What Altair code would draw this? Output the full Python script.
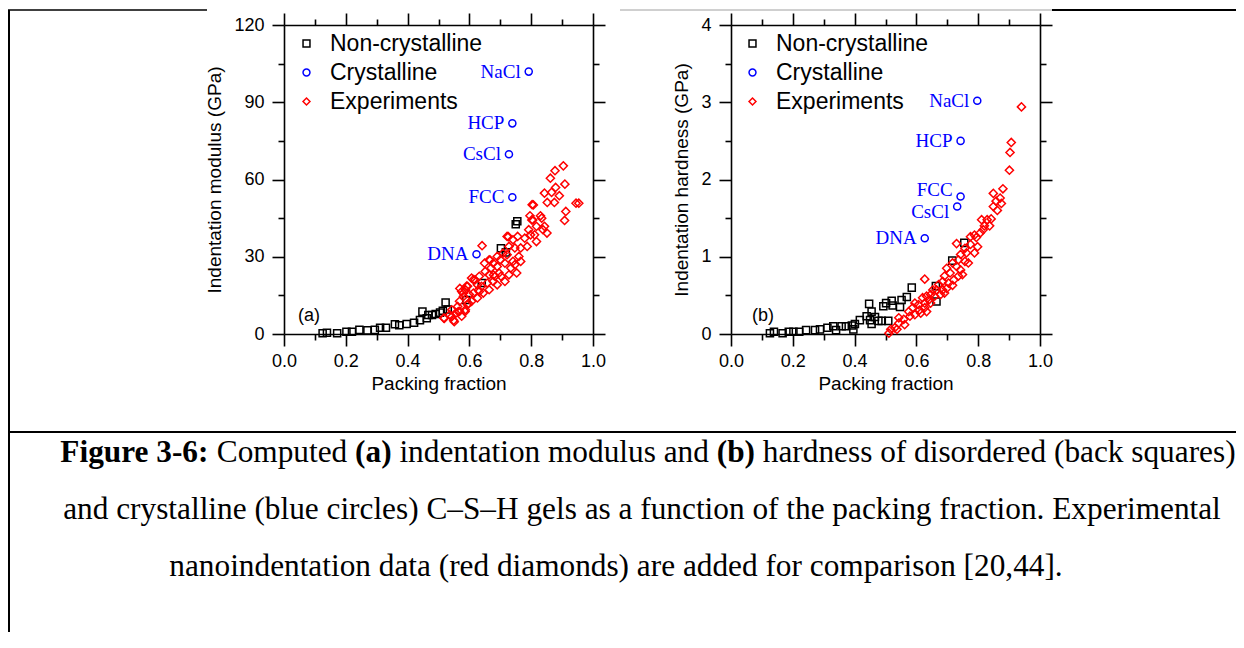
import altair as alt
import pandas as pd

SERIES = ["Non-crystalline", "Crystalline", "Experiments"]
SER_COLORS = ["#000000", "#0000ff", "#ff0000"]
SER_SHAPES = ["square", "circle", "diamond"]

# ---------------- Panel (a): indentation modulus (GPa) ----------------
a_nc_x = [0.125, 0.139, 0.172, 0.202, 0.220, 0.244, 0.270, 0.294, 0.311, 0.330,
          0.359, 0.373, 0.397, 0.421, 0.440, 0.448, 0.462, 0.467, 0.479, 0.491,
          0.505, 0.514, 0.523, 0.530, 0.590, 0.640, 0.702, 0.718, 0.750, 0.755]
a_nc_y = [0.3, 0.5, 0.3, 0.9, 0.9, 1.6, 1.4, 1.6, 2.4, 2.4,
          3.8, 3.4, 3.9, 4.4, 5.4, 8.7, 6.1, 7.4, 7.4, 7.8,
          8.3, 9.0, 12.2, 9.5, 13.2, 19.8, 33.3, 31.7, 42.6, 43.8]

a_cr_name = ["NaCl", "HCP", "CsCl", "FCC", "DNA"]
a_cr_x = [0.792, 0.739, 0.728, 0.739, 0.623]
a_cr_y = [101.9, 81.8, 69.8, 53.1, 31.0]

a_ex_x = [0.904, 0.862, 0.877, 0.909, 0.843, 0.866, 0.879, 0.891, 0.852, 0.875,
          0.945, 0.954, 0.803, 0.912, 0.908, 0.796, 0.805, 0.830, 0.834, 0.817,
          0.843, 0.838, 0.851, 0.792, 0.798, 0.811, 0.817, 0.779, 0.787, 0.766,
          0.756, 0.722, 0.741, 0.728, 0.747, 0.760, 0.741, 0.734, 0.747, 0.766,
          0.709, 0.700, 0.715, 0.690, 0.677, 0.664, 0.649, 0.641, 0.670, 0.696,
          0.683, 0.664, 0.651, 0.632, 0.613, 0.607, 0.626, 0.639, 0.658, 0.677,
          0.702, 0.594, 0.587, 0.575, 0.581, 0.600, 0.613, 0.626, 0.607, 0.594,
          0.568, 0.562, 0.543, 0.556, 0.536, 0.517, 0.549, 0.575, 0.568, 0.587,
          0.632, 0.645, 0.664, 0.690, 0.715, 0.728, 0.753, 0.722, 0.690, 0.519,
          0.543, 0.551, 0.564, 0.586, 0.597, 0.580, 0.569, 0.591, 0.618, 0.629,
          0.667, 0.678, 0.726, 0.802, 0.807]
a_ex_y = [65.3, 60.5, 63.4, 58.2, 54.7, 55.0, 56.9, 53.7, 51.1, 51.1,
          50.8, 50.8, 50.2, 47.6, 44.1, 45.9, 44.3, 45.9, 45.0, 41.8,
          41.8, 40.5, 39.2, 40.5, 38.5, 38.5, 35.9, 37.2, 34.0, 33.4,
          37.9, 37.9, 36.6, 34.0, 33.4, 30.1, 28.2, 25.6, 26.9, 28.2,
          31.4, 28.8, 27.5, 26.2, 27.5, 28.8, 27.5, 34.3, 25.6, 23.7,
          22.4, 23.0, 24.3, 22.4, 21.1, 21.7, 19.1, 18.5, 19.8, 20.4,
          22.4, 18.5, 17.2, 16.5, 14.6, 15.3, 15.9, 14.0, 12.7, 11.4,
          12.7, 10.7, 9.4, 8.1, 7.5, 6.2, 5.3, 6.9, 8.8, 9.4,
          16.5, 15.9, 17.2, 19.1, 20.4, 23.0, 23.7, 30.8, 30.1, 6.1,
          6.7, 4.8, 8.7, 8.7, 11.9, 15.8, 17.7, 18.6, 21.0, 17.1,
          28.7, 22.9, 37.8, 44.3, 50.1]

# ---------------- Panel (b): indentation hardness (GPa) ----------------
b_nc_x = [0.126, 0.139, 0.167, 0.187, 0.202, 0.221, 0.243, 0.272, 0.288, 0.312,
          0.331, 0.340, 0.358, 0.372, 0.391, 0.396, 0.401, 0.417, 0.439, 0.447,
          0.455, 0.450, 0.455, 0.466, 0.477, 0.488, 0.509, 0.493, 0.502, 0.520,
          0.523, 0.547, 0.552, 0.569, 0.585, 0.663, 0.665, 0.716, 0.755]
b_nc_y = [0.01, 0.03, 0.01, 0.03, 0.03, 0.03, 0.05, 0.05, 0.06, 0.08,
          0.10, 0.05, 0.10, 0.10, 0.11, 0.06, 0.13, 0.18, 0.23, 0.39,
          0.29, 0.18, 0.13, 0.22, 0.17, 0.17, 0.17, 0.36, 0.40, 0.43,
          0.37, 0.35, 0.44, 0.48, 0.60, 0.62, 0.42, 0.95, 1.18]

b_cr_name = ["NaCl", "HCP", "FCC", "CsCl", "DNA"]
b_cr_x = [0.797, 0.743, 0.743, 0.732, 0.627]
b_cr_y = [3.02, 2.50, 1.78, 1.65, 1.24]

b_ex_x = [0.940, 0.907, 0.903, 0.901, 0.880, 0.849, 0.871, 0.858, 0.849, 0.862,
          0.875, 0.842, 0.829, 0.811, 0.820, 0.837, 0.807, 0.816, 0.794, 0.775,
          0.788, 0.798, 0.775, 0.757, 0.730, 0.762, 0.788, 0.743, 0.757, 0.768,
          0.736, 0.717, 0.730, 0.743, 0.698, 0.709, 0.736, 0.749, 0.721, 0.691,
          0.685, 0.704, 0.717, 0.672, 0.665, 0.685, 0.698, 0.627, 0.653, 0.646,
          0.659, 0.678, 0.691, 0.633, 0.620, 0.640, 0.646, 0.627, 0.607, 0.595,
          0.588, 0.610, 0.627, 0.633, 0.614, 0.595, 0.575, 0.579, 0.559, 0.543,
          0.543, 0.530, 0.517, 0.511, 0.537, 0.562]
b_ex_y = [2.94, 2.48, 2.35, 2.12, 1.88, 1.82, 1.76, 1.72, 1.65, 1.60,
          1.69, 1.49, 1.48, 1.48, 1.40, 1.40, 1.31, 1.35, 1.25, 1.26,
          1.28, 1.13, 1.16, 1.11, 1.17, 1.05, 1.05, 1.03, 0.94, 0.92,
          0.96, 0.92, 0.875, 0.83, 0.85, 0.79, 0.75, 0.77, 0.70, 0.75,
          0.68, 0.66, 0.63, 0.64, 0.57, 0.57, 0.59, 0.71, 0.57, 0.51,
          0.49, 0.51, 0.53, 0.49, 0.47, 0.44, 0.40, 0.40, 0.38, 0.40,
          0.34, 0.31, 0.34, 0.29, 0.27, 0.25, 0.29, 0.23, 0.19, 0.21,
          0.14, 0.08, 0.06, 0.01, 0.06, 0.12]

# ---------------- axes ----------------
x_major = [0.0, 0.2, 0.4, 0.6, 0.8, 1.0]
x_minor = [0.1, 0.3, 0.5, 0.7, 0.9]
a_y_major = [0, 30, 60, 90, 120]
a_y_minor = [15, 45, 75, 105]
b_y_major = [0, 1, 2, 3, 4]
b_y_minor = [0.5, 1.5, 2.5, 3.5]
x_title = "Packing fraction"
a_y_title = "Indentation modulus (GPa)"
b_y_title = "Indentation hardness (GPa)"
a_tag_text, a_tag_x, a_tag_y = "(a)", 0.045, 7.0
b_tag_text, b_tag_x, b_tag_y = "(b)", 0.068, 0.233

# ---------------- caption ----------------
cap_line1 = [("Figure 3-6:", True), ("Computed", False), ("(a)", True),
             ("indentation modulus and", False), ("(b)", True),
             ("hardness of disordered (back squares)", False)]
cap_line2 = "and crystalline (blue circles) C\u2013S\u2013H gels as a function of the packing fraction. Experimental"
cap_line3 = "nanoindentation data (red diamonds) are added for comparison [20,44]."

# ======================================================================
W, H = 1228, 624
A_XR = [276, 585]
B_XR = [723, 1032]
YR = [326, 17]
SANS = "Liberation Sans"
SERIF = "Liberation Serif"
CAP_SIZE = 31.3

TR = dict(zip("abcdefghijklmnopqrstuvwxyz",
              [444, 500, 444, 500, 444, 333, 500, 500, 278, 278, 500, 278, 778,
               500, 500, 500, 500, 333, 389, 278, 500, 500, 722, 500, 500, 444]))
TR.update({" ": 250, "(": 333, ")": 333, "-": 333, ":": 278, ",": 250, ".": 250,
           "[": 333, "]": 333, "\u2013": 500, "C": 667, "E": 611, "F": 556,
           "H": 722, "S": 556, "N": 722})
for d in "0123456789":
    TR[d] = 500
TB = {"F": 611, "i": 278, "g": 500, "u": 556, "r": 444, "e": 444, " ": 250,
      "3": 500, "-": 333, "6": 500, ":": 333, "(": 333, "a": 500, ")": 333, "b": 556}


def tw(s, table):
    return sum(table.get(c, 500) for c in s) * CAP_SIZE / 1000.0


def make_df(xs, ys, series, names=None):
    d = pd.DataFrame({"x": xs, "y": ys, "series": series})
    if names is not None:
        d["name"] = names
    return d


def axis(orient, values, size, offset, labels=False, fmt=None, title=None,
         label_pad=None, title_pad=None, domain=True):
    kw = dict(orient=orient, values=values, tickSize=size, offset=offset,
              labels=labels, domain=domain, domainColor="black", domainWidth=1.6,
              tickColor="black", tickWidth=1.6, grid=False, minExtent=0,
              ticks=True, title=title)
    if labels:
        kw.update(format=fmt, labelFont=SANS, labelFontSize=18, labelColor="black",
                  labelPadding=label_pad, labelOverlap=False, labelFlush=False)
    if title:
        kw.update(titleFont=SANS, titleFontSize=19, titleFontWeight="normal",
                  titleColor="black", titlePadding=title_pad)
    return alt.Axis(**kw)


def panel(nc, cr, ex, tag, xr, ydom, ymaj, ymin, yfmt, ytitle, leg_xy, lab_dy):
    xs = alt.Scale(domain=[0, 1], range=xr, nice=False, zero=False)
    ys = alt.Scale(domain=ydom, range=YR, nice=False, zero=False)
    left_off = -xr[0]
    right_off = xr[1] - W
    bottom_off = YR[0] - H
    top_off = -YR[1]
    dummy = pd.DataFrame({"x": [0.5], "y": [ydom[0]]})

    def axl(xa, ya):
        return alt.Chart(dummy).mark_point(opacity=0).encode(
            x=alt.X("x:Q", scale=xs, axis=xa), y=alt.Y("y:Q", scale=ys, axis=ya))

    layers = [
        axl(axis("bottom", x_major, 12, bottom_off, labels=True, fmt=".1f",
                 title=x_title, label_pad=6, title_pad=4),
            axis("left", ymaj, 12, left_off, labels=True, fmt=yfmt,
                 title=ytitle, label_pad=8, title_pad=9)),
        axl(axis("bottom", x_minor, 6, bottom_off, domain=False),
            axis("left", ymin, 6, left_off, domain=False)),
        axl(axis("top", x_major, 12, top_off),
            axis("right", ymaj, 12, right_off)),
        axl(axis("top", x_minor, 6, top_off, domain=False),
            axis("right", ymin, 6, right_off, domain=False)),
    ]
    leg = alt.Legend(orient="none", legendX=leg_xy[0], legendY=leg_xy[1], title=None,
                     labelFont=SANS, labelFontSize=23, labelColor="black",
                     symbolSize=48, symbolStrokeWidth=1.5, rowPadding=5,
                     labelOffset=12, padding=0, labelLimit=500)
    color = alt.Color("series:N", scale=alt.Scale(domain=SERIES, range=SER_COLORS), legend=leg)
    shape = alt.Shape("series:N", scale=alt.Scale(domain=SERIES, range=SER_SHAPES), legend=leg)
    for d, sz in [(nc, 50), (cr, 50), (ex, 66)]:
        layers.append(alt.Chart(d).mark_point(filled=False, strokeWidth=1.5, size=sz, opacity=1).encode(
            x=alt.X("x:Q", scale=xs, axis=None), y=alt.Y("y:Q", scale=ys, axis=None),
            color=color, shape=shape))
    # crystal labels
    for names, dy in lab_dy:
        sub = cr[cr["name"].isin(names)]
        layers.append(alt.Chart(sub).mark_text(
            align="right", baseline="middle", dx=-8, dy=dy, font=SERIF, fontSize=19,
            color="#0000ff").encode(
            x=alt.X("x:Q", scale=xs, axis=None), y=alt.Y("y:Q", scale=ys, axis=None),
            text="name:N"))
    layers.append(alt.Chart(tag).mark_text(
        align="left", baseline="middle", font=SANS, fontSize=18, color="black").encode(
        x=alt.X("x:Q", scale=xs, axis=None), y=alt.Y("y:Q", scale=ys, axis=None),
        text="t:N"))
    return alt.layer(*layers).resolve_axis(x="independent", y="independent")


a_nc = make_df(a_nc_x, a_nc_y, "Non-crystalline")
a_cr = make_df(a_cr_x, a_cr_y, "Crystalline", a_cr_name)
a_ex = make_df(a_ex_x, a_ex_y, "Experiments")
b_nc = make_df(b_nc_x, b_nc_y, "Non-crystalline")
b_cr = make_df(b_cr_x, b_cr_y, "Crystalline", b_cr_name)
b_ex = make_df(b_ex_x, b_ex_y, "Experiments")

panel_a = panel(a_nc, a_cr, a_ex,
                pd.DataFrame({"x": [a_tag_x], "y": [a_tag_y], "t": [a_tag_text]}),
                A_XR, [0, 120], a_y_major, a_y_minor, "d", a_y_title, (287, 24),
                [(a_cr_name, 0)])
panel_b = panel(b_nc, b_cr, b_ex,
                pd.DataFrame({"x": [b_tag_x], "y": [b_tag_y], "t": [b_tag_text]}),
                B_XR, [0, 4], b_y_major, b_y_minor, "d", b_y_title, (733, 24),
                [(["NaCl", "HCP", "DNA"], 0), (["FCC"], -6), (["CsCl"], 5)])

# caption layout
rows_reg, rows_bold = [], []
line1_center, line_ys = 640, [445, 502, 559]
widths = [tw(s, TB if b else TR) for s, b in cap_line1]
space = TR[" "] * CAP_SIZE / 1000.0
total = sum(widths) + space * (len(widths) - 1)
cx = line1_center - total / 2
for (s, b), w in zip(cap_line1, widths):
    (rows_bold if b else rows_reg).append({"txt": s, "px": cx, "py": line_ys[0]})
    cx += w + space
cap_reg = pd.DataFrame(rows_reg)
cap_bold = pd.DataFrame(rows_bold)
cap_center = pd.DataFrame({"txt": [cap_line2, cap_line3], "px": [634, 608],
                           "py": [line_ys[1], line_ys[2]]})


def cap_layer(df, weight, align):
    return alt.Chart(df).mark_text(font=SERIF, fontSize=CAP_SIZE, fontWeight=weight,
                                   align=align, baseline="middle", color="black").encode(
        x=alt.X("px:Q", scale=None), y=alt.Y("py:Q", scale=None), text="txt:N")


one = pd.DataFrame({"k": [0]})


def hrule(x1, x2, y, color, width):
    return alt.Chart(one).mark_rule(color=color, strokeWidth=width).encode(
        x=alt.value(x1), x2=alt.value(x2), y=alt.value(y))


def vrule(x, y1, y2, color, width):
    return alt.Chart(one).mark_rule(color=color, strokeWidth=width).encode(
        x=alt.value(x), y=alt.value(y1), y2=alt.value(y2))


borders = [
    vrule(1, 2, H, "black", 2),
    hrule(0, 199, 2, "black", 1.5),
    hrule(612, 1044, 2, "#a0a0a0", 1),
    hrule(1044, W, 2, "black", 2),
    hrule(0, W, 424, "black", 2),
]

chart = alt.layer(
    panel_a, panel_b,
    cap_layer(cap_reg, "normal", "left"),
    cap_layer(cap_bold, "bold", "left"),
    cap_layer(cap_center, "normal", "center"),
    *borders
).resolve_scale(
    x="independent", y="independent", color="independent", shape="independent"
).properties(
    width=W, height=H, padding=0, autosize=alt.AutoSizeParams(type="none"),
    background="white"
).configure_view(stroke=None)

chart.save("out.html", embed_options={"renderer": "svg", "actions": False})
